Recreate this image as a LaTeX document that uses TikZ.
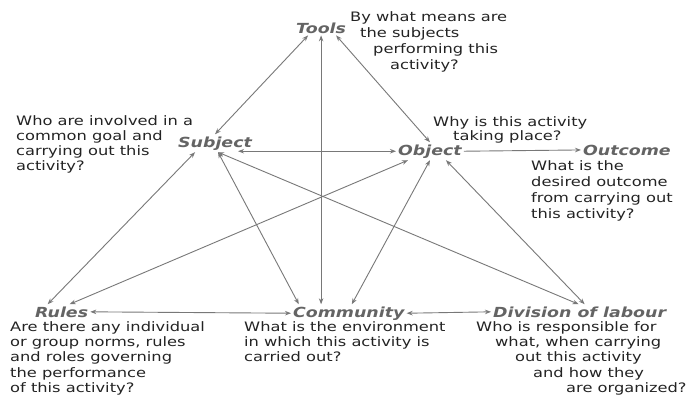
\documentclass[tikz,border=0pt]{standalone}
\usepackage{fontspec}
\newfontfamily\qfont[FakeStretch=1.25]{DejaVu Sans}
\usetikzlibrary{arrows.meta,calc}
\definecolor{qtext}{RGB}{35,35,35}
\definecolor{lblgray}{RGB}{100,100,100}
\definecolor{lingray}{RGB}{120,120,120}
\begin{document}
\begin{tikzpicture}[x=1bp,y=-1bp,
 lbl/.style={font=\qfont\fontsize{13.9bp}{16bp}\selectfont\bfseries\itshape, text=lblgray, inner sep=2bp, anchor=base west},
 qtn/.style={font=\qfont\fontsize{13bp}{16bp}\selectfont, text=qtext, inner sep=0pt, anchor=north west, align=left},
 tip/.tip={Stealth[length=6bp,width=4.5bp]},
 conn/.style={draw=lingray, line width=0.9bp, tip-tip},
 conn1/.style={draw=lingray, line width=0.9bp, -tip},
]
\useasboundingbox[fill=white] (0,0) rectangle (686,396);

% labels
\node[lbl] (tools) at (294,33) {Tools};
\node[lbl] (subject) at (176,147) {Subject};
\node[lbl] (object) at (396,155) {Object};
\node[lbl] (outcome) at (581,155) {Outcome};
\node[lbl] (rules) at (33,317) {Rules};
\node[lbl] (community) at (291,317) {Community};
\node[lbl] (division) at (491,317) {Division of labour};

% questions
\node[qtn] (qtools) at (350,11) {By what means are\\\hspace*{10bp}the subjects\\\hspace*{23bp}performing this\\\hspace*{40bp}activity?};
\node[qtn, font=\qfont\fontsize{13bp}{15bp}\selectfont] (qsubject) at (16,115) {Who are involved in a\\common goal and\\carrying out this\\activity?};
\node[qtn, font=\qfont\fontsize{13bp}{14bp}\selectfont] (qobject) at (433,116) {Why is this activity\\\hspace*{20bp}taking place?};
\node[qtn] (qoutcome) at (531,160) {What is the\\desired outcome\\from carrying out\\this activity?};
\node[qtn, font=\qfont\fontsize{13bp}{15.4bp}\selectfont] (qrules) at (10,321) {Are there any individual\\or group norms, rules\\and roles governing\\the performance\\of this activity?};
\node[qtn, font=\qfont\fontsize{13bp}{15.4bp}\selectfont] (qcommunity) at (244,321) {What is the environment\\in which this activity is\\carried out?};
\node[qtn, font=\qfont\fontsize{13bp}{15.4bp}\selectfont] (qdivision) at (476,321) {Who is responsible for\\\hspace*{19bp}what, when carrying\\\hspace*{39bp}out this activity\\\hspace*{57bp}and how they\\\hspace*{90bp}are organized?};

% connectors
\draw[conn] ([xshift=-13bp]tools.south) -- (subject.north);
\draw[conn] (tools.south) -- (tools.south |- community.north);
\draw[conn] ([xshift=15bp]tools.south) -- (object.north);
\draw[conn] ($(subject.east |- object.west)+(-16,0)$) -- (object.west);
\draw[conn1] (object.east) -- (outcome.west);
\draw[conn] ([xshift=-20bp]subject.south) -- ([xshift=-14bp]rules.north);
\draw[conn] ([xshift=3bp]subject.south) -- ([xshift=-50bp]community.north);
\draw[conn] ([xshift=3bp]subject.south) -- ([xshift=-1bp]division.north);
\draw[conn] ([xshift=-22bp]object.south) -- ([xshift=8bp]rules.north);
\draw[conn] (object.south) -- ([xshift=3bp]community.north);
\draw[conn] ([xshift=16bp]object.south) -- ([xshift=5bp]division.north);
\draw[conn] (rules.east) -- (community.west);
\draw[conn] (community.east) -- (division.west);
\end{tikzpicture}
\end{document}
